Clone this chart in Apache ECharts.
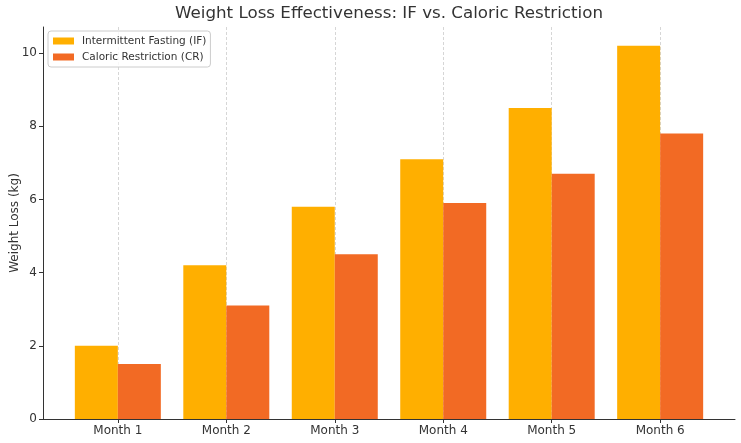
<!DOCTYPE html>
<html>
<head>
<meta charset="utf-8">
<script src="https://cdn.jsdelivr.net/npm/echarts@6/dist/echarts.min.js"></script>
<style>
  html, body { margin: 0; padding: 0; background: #fff; }
  #chart { width: 741px; height: 443px; }
</style>
</head>
<body>
<div id="chart"></div>
<script>
var months = ['Month 1', 'Month 2', 'Month 3', 'Month 4', 'Month 5', 'Month 6'];
var fastingLoss = [2.0, 4.2, 5.8, 7.1, 8.5, 10.2];
var caloricLoss = [1.5, 3.1, 4.5, 5.9, 6.7, 7.8];
var yTicks = [0, 2, 4, 6, 8, 10];

var font = 'DejaVu Sans';
var ink = '#333333';

function pairs(values) {
    var out = [];
    for (var i = 0; i < values.length; i++) {
        out.push([i, values[i]]);
    }
    return out;
}

var positions = months.map(function (m, i) { return i; });

var chart = echarts.init(document.getElementById('chart'), null, { renderer: 'canvas' });

chart.setOption({
    animation: false,
    backgroundColor: '#ffffff',
    textStyle: { fontFamily: font, color: ink },
    title: {
        text: 'Weight Loss Effectiveness: IF vs. Caloric Restriction',
        left: 175,
        top: 5,
        padding: 0,
        textStyle: { fontFamily: font, fontSize: 16.7, fontWeight: 'normal', color: ink }
    },
    legend: {
        orient: 'vertical',
        left: 48,
        top: 31,
        padding: [4, 4, 4, 5],
        itemGap: 4,
        itemWidth: 21,
        itemHeight: 7,
        icon: 'rect',
        backgroundColor: 'rgba(255,255,255,0.8)',
        borderColor: '#cccccc',
        borderWidth: 1,
        borderRadius: 3,
        textStyle: { fontFamily: font, fontSize: 10.5, color: ink, lineHeight: 12, padding: [0, 0, 0, 3] },
        data: ['Intermittent Fasting (IF)', 'Caloric Restriction (CR)']
    },
    grid: { left: 43, right: 6, top: 27, bottom: 24, containLabel: false, outerBoundsMode: 'none' },
    xAxis: {
        type: 'value',
        min: -0.69,
        max: 5.69,
        axisLine: { show: true, onZero: false, lineStyle: { color: ink, width: 1 } },
        axisTick: { show: true, length: 4, customValues: positions, lineStyle: { color: ink } },
        axisLabel: {
            customValues: positions,
            margin: 6,
            fontFamily: font,
            fontSize: 12,
            color: ink,
            formatter: function (v) { return months[Math.round(v)]; }
        },
        splitLine: { show: true, lineStyle: { color: '#cccccc', type: [3, 2], width: 0.8 } }
    },
    yAxis: {
        type: 'value',
        min: 0,
        max: 10.71,
        name: 'Weight Loss (kg)',
        nameLocation: 'middle',
        nameGap: 22,
        nameMoveOverlap: false,
        nameTextStyle: { fontFamily: font, fontSize: 12, color: ink },
        axisLine: { show: true, onZero: false, lineStyle: { color: ink, width: 1 } },
        axisTick: { show: true, length: 4, customValues: yTicks, lineStyle: { color: ink } },
        axisLabel: { customValues: yTicks, margin: 6, fontFamily: font, fontSize: 12, color: ink },
        splitLine: { show: false }
    },
    series: [
        {
            name: 'Intermittent Fasting (IF)',
            type: 'bar',
            barWidth: 43,
            barGap: '0%',
            itemStyle: { color: '#ffaf00' },
            data: pairs(fastingLoss)
        },
        {
            name: 'Caloric Restriction (CR)',
            type: 'bar',
            barWidth: 43,
            barGap: '0%',
            itemStyle: { color: '#f26a24' },
            data: pairs(caloricLoss)
        }
    ]
});
</script>
</body>
</html>
